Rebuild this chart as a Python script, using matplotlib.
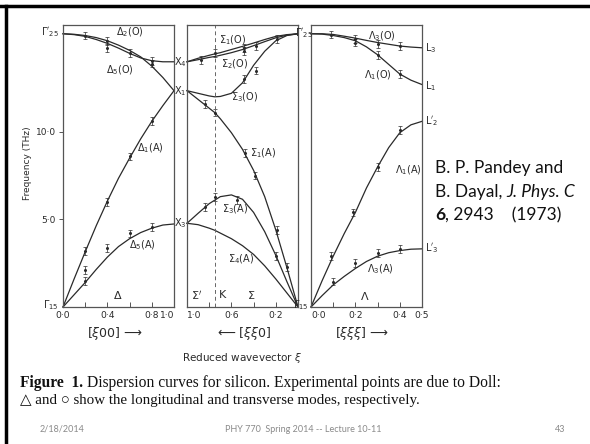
import matplotlib
matplotlib.use("Agg")
import matplotlib.pyplot as plt

W, H = 590, 444

# ---------------- data (THz) ----------------
# Delta panel [xi 0 0], xi 0 -> 1
d_xi = [0, 0.1, 0.2, 0.3, 0.4, 0.5, 0.6, 0.7, 0.8, 0.9, 1.0]
d2_O = [15.6, 15.57, 15.5, 15.38, 15.2, 14.95, 14.65, 14.28, 13.75, 13.1, 12.35]
d5_O = [15.6, 15.55, 15.45, 15.27, 15.05, 14.78, 14.48, 14.22, 14.06, 14.0, 14.0]
d1_A = [0, 1.6, 3.15, 4.65, 6.05, 7.35, 8.5, 9.6, 10.6, 11.5, 12.35]
d5_A = [0, 0.7, 1.4, 2.15, 2.85, 3.45, 3.9, 4.25, 4.5, 4.68, 4.74]

# Sigma panel [xi xi 0], xi 1 -> 0
s_xi = [1.0, 0.9, 0.8, 0.75, 0.7, 0.6, 0.5, 0.4, 0.3, 0.2, 0.1, 0]
s1_O = [14.0, 14.2, 14.37, 14.45, 14.52, 14.7, 14.88, 15.07, 15.27, 15.45, 15.55, 15.6]
s2_O = [14.0, 14.12, 14.25, 14.3, 14.37, 14.52, 14.7, 14.92, 15.15, 15.37, 15.52, 15.6]
s3_O = [12.35, 12.2, 12.05, 12.0, 12.02, 12.2, 12.8, 13.8, 14.6, 15.2, 15.5, 15.6]
s1_A = [12.35, 11.85, 11.35, 11.1, 10.75, 9.95, 9.0, 7.8, 6.3, 4.4, 2.25, 0]
s3_A = [4.78, 5.35, 5.9, 6.1, 6.3, 6.4, 6.15, 5.4, 4.3, 2.95, 1.45, 0]
s4_A = [4.78, 4.7, 4.5, 4.38, 4.22, 3.9, 3.5, 3.0, 2.35, 1.6, 0.8, 0]

# Lambda panel [xi xi xi], xi 0 -> 0.5
l_xi = [0, 0.05, 0.1, 0.15, 0.2, 0.25, 0.3, 0.35, 0.4, 0.45, 0.5]
l3_O = [15.6, 15.6, 15.56, 15.46, 15.35, 15.22, 15.1, 15.0, 14.9, 14.84, 14.8]
l1_O = [15.6, 15.58, 15.5, 15.38, 15.2, 14.85, 14.4, 13.85, 13.3, 12.95, 12.7]
l1_A = [0, 1.5, 2.9, 4.2, 5.4, 6.8, 8.0, 9.1, 9.95, 10.4, 10.6]
l3_A = [0, 0.65, 1.26, 1.75, 2.2, 2.6, 2.9, 3.1, 3.22, 3.3, 3.32]

# experimental points
exp_d_xi = [0.2, 0.4, 0.4, 0.6, 0.8, 0.8, 0.2, 0.4, 0.6, 0.8, 0.2, 0.2, 0.4, 0.6, 0.8]
exp_d_f = [15.5, 15.2, 14.8, 14.5, 14.05, 13.9, 3.2, 6.0, 8.6, 10.6, 2.1, 1.5, 3.35, 4.2, 4.55]
exp_s_xi = [0.87, 0.75, 0.49, 0.49, 0.38, 0.38, 0.19, 0.49, 0.75, 0.84, 0.48, 0.39, 0.19, 0.84, 0.75, 0.55, 0.2, 0.1]
exp_s_f = [14.1, 14.5, 14.8, 14.6, 14.9, 13.5, 15.3, 13.0, 11.1, 11.6, 8.8, 7.5, 4.4, 5.7, 6.3, 6.1, 2.9, 2.3]
exp_l_xi = [0.09, 0.2, 0.2, 0.3, 0.3, 0.4, 0.4, 0.09, 0.19, 0.3, 0.4, 0.1, 0.2, 0.3, 0.4]
exp_l_f = [15.55, 15.3, 15.1, 15.0, 14.4, 14.9, 13.3, 2.9, 5.4, 8.0, 10.1, 1.45, 2.5, 3.1, 3.3]

d_ticks = [0, 0.2, 0.4, 0.6, 0.8, 1.0]
d_ticklabels = ["0·0", "", "0·4", "", "0·8", "1·0"]
s_ticks = [1.0, 0.8, 0.6, 0.4, 0.2, 0.0]
s_ticklabels = ["1·0", "", "0·6", "", "0·2", ""]
l_ticks = [0, 0.1, 0.2, 0.3, 0.4, 0.5]
l_ticklabels = ["0·0", "", "0·2", "", "0·4", "0·5"]
y_ticks = [5, 10]
y_ticklabels = ["5·0", "10·0"]

INK = "#2a2a2a"
FR = "#555555"

fig = plt.figure(figsize=(W / 100, H / 100), dpi=100)
fig.patch.set_facecolor("white")


def fx(x):
    return x / W


def fy(y):
    return 1 - y / H


def panel(x0, x1, y0=25, y1=307):
    ax = fig.add_axes([fx(x0), fy(y1), (x1 - x0) / W, (y1 - y0) / H])
    ax.set_ylim(0, 16.1)
    for s in ax.spines.values():
        s.set_color(FR)
        s.set_linewidth(0.9)
    ax.tick_params(axis="x", direction="in", length=3.5, width=0.7, color=FR,
                   labelsize=6.6, pad=3, labelcolor=INK)
    ax.set_yticks([])
    ax.set_facecolor("none")
    return ax


lw = 0.9
# ---- panel 1
ax1 = panel(63, 174)
ax1.set_xlim(0, 1.0)
ax1.set_xticks(d_ticks)
ax1.set_xticklabels(d_ticklabels)
ax1.get_xticklabels()[-1].set_ha("right")
for f in (d2_O, d5_O, d1_A, d5_A):
    ax1.plot(d_xi, f, color=INK, lw=lw, clip_on=False)
ax1.errorbar(exp_d_xi, exp_d_f, yerr=0.22, fmt="o", ms=1.2, color=INK,
             elinewidth=0.5, capsize=1.2, capthick=0.5)
ax1.set_yticks(y_ticks)
ax1.set_yticklabels(y_ticklabels)
ax1.tick_params(axis="y", direction="out", length=3, width=0.7, color=FR,
                labelsize=6.5, pad=2, labelcolor=INK)

# ---- panel 2
ax2 = panel(187, 298)
ax2.set_xlim(1.0, 0.0)
ax2.set_xticks(s_ticks)
ax2.set_xticklabels(s_ticklabels)
ax2.get_xticklabels()[0].set_ha("left")
for f in (s1_O, s2_O, s3_O, s1_A, s3_A, s4_A):
    ax2.plot(s_xi, f, color=INK, lw=lw, clip_on=False)
ax2.errorbar(exp_s_xi, exp_s_f, yerr=0.22, fmt="o", ms=1.2, color=INK,
             elinewidth=0.5, capsize=1.2, capthick=0.5)
ax2.axvline(0.75, color="#666666", lw=0.7, ls=(0, (4, 3)))

# ---- panel 3
ax3 = panel(311, 422)
ax3.set_xlim(0, 0.5)
ax3.set_xticks(l_ticks)
ax3.set_xticklabels(l_ticklabels)
ax3.get_xticklabels()[0].set_ha("left")
for f in (l3_O, l1_O, l1_A, l3_A):
    ax3.plot(l_xi, f, color=INK, lw=lw, clip_on=False)
ax3.errorbar(exp_l_xi, exp_l_f, yerr=0.22, fmt="o", ms=1.2, color=INK,
             elinewidth=0.5, capsize=1.2, capthick=0.5)


def T(x, y, s, size=7, ha="center", va="center", **kw):
    kw.setdefault("color", INK)
    return fig.text(fx(x), fy(y), s, fontsize=size, ha=ha, va=va, **kw)


# branch labels
T(130, 32, r"$\Delta_2$(O)")
T(120, 70, r"$\Delta_5$(O)")
T(150, 148, r"$\Delta_1$(A)")
T(142, 245, r"$\Delta_5$(A)")
T(118, 295, r"$\Delta$", size=8)
T(233, 40, r"$\Sigma_1$(O)")
T(235, 64, r"$\Sigma_2$(O)")
T(245, 97, r"$\Sigma_3$(O)")
T(263, 153, r"$\Sigma_1$(A)")
T(235, 209, r"$\Sigma_3$(A)")
T(241, 259, r"$\Sigma_4$(A)")
T(197, 295, r"$\Sigma'$", size=8)
T(222, 295, "K", size=8)
T(251, 295, r"$\Sigma$", size=8)
T(382, 36, r"$\Lambda_3$(O)")
T(378, 75, r"$\Lambda_1$(O)")
T(408, 170, r"$\Lambda_1$(A)")
T(380, 269, r"$\Lambda_3$(A)")
T(365, 296, r"$\Lambda$", size=8)

# symmetry point labels
T(59, 32, r"$\Gamma'_{25}$", ha="right", size=7)
T(180, 62, r"$\mathrm{X}_4$", size=7)
T(180, 91, r"$\mathrm{X}_1$", size=7)
T(180, 223, r"$\mathrm{X}_3$", size=7)
T(304, 33, r"$\Gamma'_{25}$", size=7)
T(425, 48, r"$\mathrm{L}_3$", ha="left", size=7)
T(425, 86, r"$\mathrm{L}_1$", ha="left", size=7)
T(425, 121, r"$\mathrm{L}'_2$", ha="left", size=7)
T(425, 248, r"$\mathrm{L}'_3$", ha="left", size=7)
T(59, 305, r"$\Gamma_{15}$", ha="right", size=7)
T(309, 305, r"$\Gamma_{15}$", ha="right", size=7)

T(28, 163, "Frequency (THz)", size=6.5, rotation=90)

# axis direction labels
T(115, 334, r"$[\xi 0 0]$ ⟶", size=9, family=["DejaVu Sans"])
T(244, 334, r"⟵ $[\xi \xi 0]$", size=9, family=["DejaVu Sans"])
T(362, 334, r"$[\xi \xi \xi]$ ⟶", size=9, family=["DejaVu Sans"])
T(242, 358, r"Reduced wavevector $\xi$", size=7.5)

# caption
renderer = fig.canvas.get_renderer()
cap_kw = dict(fontsize=11.2, ha="left", va="center", color="#111111",
              family=["Liberation Serif", "DejaVu Serif"])
t1 = fig.text(fx(20), fy(383), "Figure  1.", fontweight="bold", **cap_kw)
bb = t1.get_window_extent(renderer)
fig.text(bb.x1 / W + 4 / W, fy(383),
         "Dispersion curves for silicon. Experimental points are due to Doll:",
         **cap_kw)
fig.text(fx(20), fy(400),
         "△ and ○ show the longitudinal and transverse modes, respectively.",
         fontsize=10.8, ha="left", va="center", color="#111111",
         family=["Liberation Serif", "DejaVu Sans"])

# reference text on the right
rk = dict(fontsize=12.5, ha="left", va="center", color="#111111", family=["Lato", "DejaVu Sans"])
fig.text(fx(435), fy(168), "B. P. Pandey and", **rk)
ta = fig.text(fx(435), fy(192), "B. Dayal,", **rk)
bb = ta.get_window_extent(renderer)
fig.text(bb.x1 / W + 4 / W, fy(192), "J. Phys. C", style="italic", **rk)
tb = fig.text(fx(435), fy(215), "6", fontweight="bold", **rk)
bb = tb.get_window_extent(renderer)
fig.text(bb.x1 / W, fy(215), ", 2943    (1973)", **rk)

# footer
fk = dict(fontsize=6.5, va="center", color="#8a8a8a", family=["Lato", "DejaVu Sans"])
fig.text(fx(40), fy(429), "2/18/2014", ha="left", **fk)
fig.text(fx(303), fy(429), "PHY 770  Spring 2014 -- Lecture 10-11", ha="center", **fk)
fig.text(fx(560), fy(429), "43", ha="center", **fk)

# slide border (top and left)
fig.add_artist(plt.Line2D([0, 1], [fy(6), fy(6)], color="black", lw=2.5))
fig.add_artist(plt.Line2D([fx(6), fx(6)], [0, fy(6)], color="black", lw=2.5))

fig.savefig("out.png", dpi=100)
